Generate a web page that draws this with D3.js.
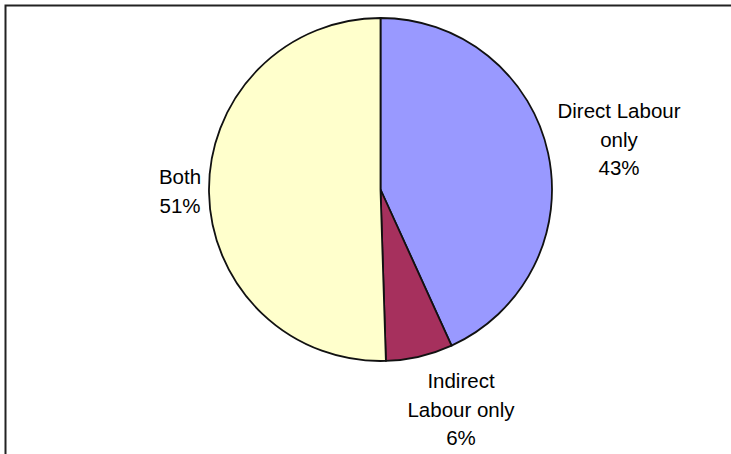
<!DOCTYPE html>
<html>
<head>
<meta charset="utf-8">
<script src="https://cdn.jsdelivr.net/npm/d3@7"></script>
<style>
  html, body { margin: 0; padding: 0; background: #fff; }
  svg text { font-family: "Liberation Sans", Arial, sans-serif; fill: #000; }
</style>
</head>
<body>
<svg id="chart" width="731" height="454"></svg>
<script>
"use strict";

var categories = ["Direct Labour only", "Indirect Labour only", "Both"];
// shares (labels show them rounded)
var shares = [43.2, 6.3, 50.5];
var colours = ["#9999ff", "#a6305d", "#ffffcc"];
// label lines per slice, as printed on the chart
var labelLines = [
	["Direct Labour", "only"],
	["Indirect", "Labour only"],
	["Both"]
];
var labelPos = [[619, 118], [461, 388], [180, 184]];

var w = 731, h = 454;
var cx = 380.5, cy = 189.5, r = 171.5;
var lineH = 28.5;

var svg = d3.select("#chart");

// frame (top and left edges only are visible)
svg.append("path")
	.attr("d", "M5.5," + h + " L5.5,5.5 L" + w + ",5.5")
	.attr("fill", "none")
	.attr("stroke", "#222")
	.attr("stroke-width", 2);

var pie = d3.pie().sort(null).value(function(d){ return d; });
var arc = d3.arc().innerRadius(0).outerRadius(r);
var arcs = pie(shares);

var g = svg.append("g").attr("transform", "translate(" + cx + "," + cy + ")");
g.selectAll("path.slice")
	.data(arcs)
	.enter().append("path")
	.attr("class", "slice")
	.attr("d", arc)
	.attr("fill", function(d, i){ return colours[i]; })
	.attr("stroke", "#111")
	.attr("stroke-width", 1.8)
	.attr("stroke-linejoin", "round");

var labels = svg.selectAll("text.lbl")
	.data(categories)
	.enter().append("text")
	.attr("class", "lbl")
	.attr("text-anchor", "middle")
	.attr("font-size", "20.5px")
	.attr("x", function(d, i){ return labelPos[i][0]; })
	.attr("y", function(d, i){ return labelPos[i][1]; });

labels.each(function(d, i){
	var t = d3.select(this);
	var lines = labelLines[i].concat([Math.round(shares[i]) + "%"]);
	lines.forEach(function(line, k){
		t.append("tspan")
			.attr("x", labelPos[i][0])
			.attr("dy", k === 0 ? 0 : lineH)
			.text(line);
	});
});
</script>
</body>
</html>
